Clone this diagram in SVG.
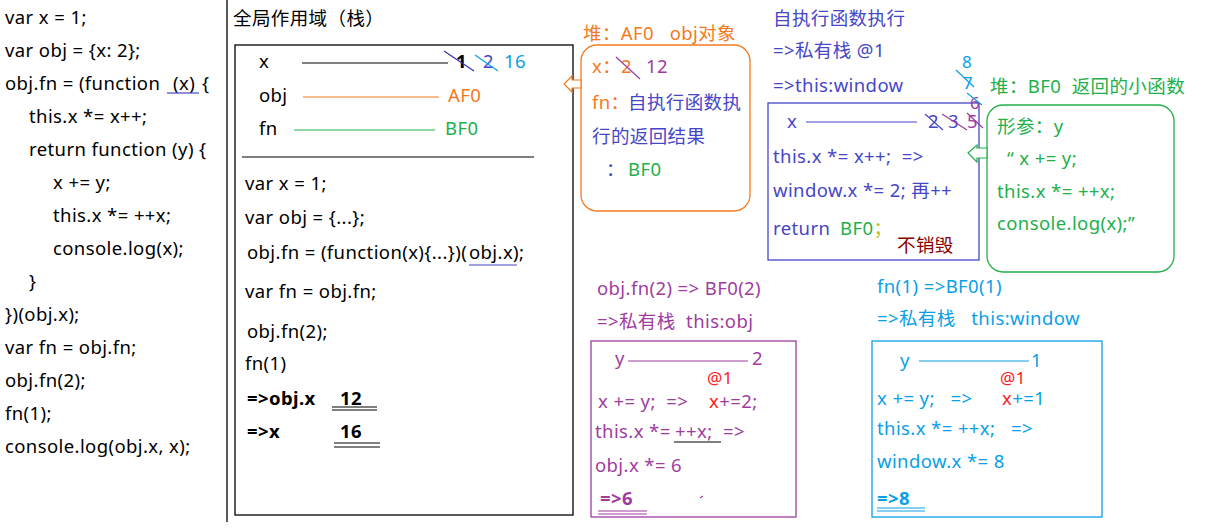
<svg xmlns="http://www.w3.org/2000/svg" width="1218" height="528" viewBox="0 0 1218 528">
<style>
text{font-family:"Noto Sans","Noto Sans CJK SC",sans-serif;font-size:18.5px;letter-spacing:0.4px;fill:#000;white-space:pre}
.b{font-weight:bold}
.sm{font-size:17px}
.or{fill:#f47a20}.bl{fill:#4646c8}.pu{fill:#a03ca0}.gr{fill:#22b04a}.cy{fill:#0aa0e6}.rd{fill:#ff2020}.dr{fill:#8b0000}.yg{fill:#b0c020}
.box{fill:none;stroke-width:1.3}
.ln{stroke-width:1.2;fill:none}
</style>
<rect width="1218" height="528" fill="#fff"/>
<g id="code">
<text x="5" y="24">var x = 1;</text>
<text x="5" y="57">var obj = {x: 2};</text>
<text x="5" y="90">obj.fn = (function<tspan x="173">(x)</tspan><tspan x="202">{</tspan></text>
<line x1="167" y1="93" x2="199" y2="93" stroke="#4646c8" stroke-width="1.2"/>
<text x="29" y="123">this.x *= x++;</text>
<text x="29" y="156">return function (y) {</text>
<text x="53" y="189">x += y;</text>
<text x="53" y="222">this.x *= ++x;</text>
<text x="53" y="255">console.log(x);</text>
<text x="29" y="288">}</text>
<text x="5" y="321">})(obj.x);</text>
<text x="5" y="354">var fn = obj.fn;</text>
<text x="5" y="387">obj.fn(2);</text>
<text x="5" y="420">fn(1);</text>
<text x="5" y="453">console.log(obj.x, x);</text>
<line x1="227" y1="0" x2="227" y2="522" stroke="#000" stroke-width="1.3"/>
</g>
<g id="global-scope">
<text x="233" y="25">全局作用域（栈）</text>
<rect class="box" x="235" y="45" width="338" height="470" stroke="#000"/>
<text x="259" y="68">x</text>
<line class="ln" x1="302" y1="63" x2="448" y2="63" stroke="#000"/>
<text x="456" y="68" class="b">1</text>
<line class="ln" x1="444" y1="51" x2="474" y2="71" stroke="#3030b0"/>
<text x="483" y="68" class="bl">2</text>
<line class="ln" x1="475" y1="55" x2="498" y2="71" stroke="#0aa0e6"/>
<text x="504" y="68" class="cy">16</text>
<text x="259" y="102">obj</text>
<line class="ln" x1="303" y1="97" x2="439" y2="97" stroke="#f47a20"/>
<text x="448" y="102" class="or">AF0</text>
<text x="259" y="135">fn</text>
<line class="ln" x1="294" y1="130" x2="435" y2="130" stroke="#22b04a"/>
<text x="445" y="135" class="gr">BF0</text>
<line class="ln" x1="242" y1="157" x2="534" y2="157" stroke="#000"/>
<text x="245" y="190">var x = 1;</text>
<text x="245" y="224">var obj = {...};</text>
<text x="247" y="259">obj.fn = (function(x){...})(<tspan x="469">obj.x);</tspan></text>
<line class="ln" x1="469" y1="265" x2="517" y2="265" stroke="#4646c8"/>
<text x="245" y="298">var fn = obj.fn;</text>
<text x="247" y="338">obj.fn(2);</text>
<text x="245" y="370">fn(1)</text>
<text x="247" y="405" class="b">=&gt;obj.x</text>
<text x="340" y="405" class="b">12</text>
<line class="ln" x1="332" y1="407" x2="377" y2="407" stroke="#000"/>
<line class="ln" x1="332" y1="410" x2="377" y2="410" stroke="#000"/>
<text x="247" y="438" class="b">=&gt;x</text>
<text x="340" y="438" class="b">16</text>
<line class="ln" x1="334" y1="443" x2="380" y2="443" stroke="#000"/>
<line class="ln" x1="334" y1="447" x2="380" y2="447" stroke="#000"/>
</g>
<g id="heap-AF0">
<text x="583" y="40" class="or">堆：AF0   obj对象</text>
<rect class="box" x="581" y="45" width="169" height="166" rx="16" stroke="#f47a20"/>
<text x="592" y="73" class="or">x：2</text>
<line class="ln" x1="616" y1="57" x2="640" y2="79" stroke="#a03ca0"/>
<text x="646" y="73" class="pu">12</text>
<text x="592" y="109"><tspan class="or">fn：</tspan><tspan class="bl" x="628">自执行函数执</tspan></text>
<text x="592" y="143" class="bl">行的返回结果</text>
<text x="606" y="176"><tspan class="bl">：</tspan><tspan class="gr" x="628">BF0</tspan></text>
</g>
<g id="private-stack-1">
<text x="773" y="25" class="bl">自执行函数执行</text>
<text x="773" y="57" class="bl">=&gt;私有栈 @1</text>
<text x="773" y="92" class="bl">=&gt;this:window</text>
<rect class="box" x="768" y="103" width="211" height="157" stroke="#4646c8"/>
<text x="787" y="128" class="bl">x</text>
<line class="ln" x1="806" y1="122" x2="917" y2="122" stroke="#4646c8"/>
<text x="928" y="128" class="bl">2</text>
<line class="ln" x1="925" y1="114" x2="943" y2="130" stroke="#4646c8"/>
<text x="948" y="128" class="bl">3</text>
<line class="ln" x1="942" y1="114" x2="967" y2="130" stroke="#a03ca0"/>
<text x="967" y="128" class="pu">5</text>
<line class="ln" x1="967" y1="113" x2="983" y2="128" stroke="#a03ca0"/>
<text x="970" y="109" class="pu sm">6</text>
<line class="ln" x1="967" y1="93" x2="982" y2="105" stroke="#0aa0e6"/>
<text x="963" y="89" class="cy sm">7</text>
<line class="ln" x1="956" y1="70" x2="974" y2="87" stroke="#0aa0e6"/>
<text x="962" y="68" class="cy sm">8</text>
<text x="773" y="163" class="bl">this.x *= x++;  =&gt;</text>
<text x="773" y="197" class="bl">window.x *= 2; 再++</text>
<text x="773" y="235"><tspan class="bl">return</tspan><tspan class="gr" x="840">BF0</tspan><tspan class="yg">；</tspan></text>
<text x="897" y="252" class="dr">不销毁</text>
</g>
<g id="heap-BF0">
<text x="990" y="93" class="gr">堆：BF0  返回的小函数</text>
<rect class="box" x="987" y="105" width="187" height="167" rx="16" stroke="#22b04a"/>
<text x="997" y="133" class="gr">形参：y</text>
<text x="1007" y="165" class="gr">“ x += y;</text>
<text x="997" y="198" class="gr">this.x *= ++x;</text>
<text x="997" y="230" class="gr">console.log(x);”</text>
</g>
<g id="call-obj-fn2">
<text x="597" y="295" class="pu">obj.fn(2) =&gt; BF0(2)</text>
<text x="597" y="328" class="pu">=&gt;私有栈  this:obj</text>
<rect class="box" x="591" y="341" width="205" height="176" stroke="#a03ca0"/>
<text x="615" y="365" class="pu">y</text>
<line class="ln" x1="628" y1="361" x2="748" y2="361" stroke="#a03ca0"/>
<text x="752" y="365" class="pu">2</text>
<text x="707" y="384" class="rd sm">@1</text>
<text x="598" y="408"><tspan class="pu">x += y;  =&gt;</tspan><tspan class="rd" x="709">x</tspan><tspan class="pu">+=2;</tspan></text>
<text x="595" y="438" class="pu">this.x *=<tspan x="675">++x;  =&gt;</tspan></text>
<line class="ln" x1="674" y1="442" x2="721" y2="442" stroke="#000"/>
<text x="595" y="472" class="pu">obj.x *= 6</text>
<text x="600" y="505" class="pu b">=&gt;6</text>
<line class="ln" x1="598" y1="511" x2="647" y2="511" stroke="#a03ca0"/>
<line class="ln" x1="598" y1="514" x2="647" y2="514" stroke="#a03ca0"/>
<line class="ln" x1="700" y1="498" x2="703" y2="496" stroke="#a03ca0"/>
</g>
<g id="call-fn1">
<text x="877" y="293" class="cy">fn(1) =&gt;BF0(1)</text>
<text x="877" y="325" class="cy">=&gt;私有栈   this:window</text>
<rect class="box" x="872" y="341" width="230" height="176" stroke="#0aa0e6"/>
<text x="900" y="367" class="cy">y</text>
<line class="ln" x1="919" y1="361" x2="1029" y2="361" stroke="#0aa0e6"/>
<text x="1031" y="367" class="cy">1</text>
<text x="1000" y="384" class="rd sm">@1</text>
<text x="877" y="405"><tspan class="cy">x += y;   =&gt;</tspan><tspan class="rd" x="1002">x</tspan><tspan class="cy">+=1</tspan></text>
<text x="877" y="435" class="cy">this.x *= ++x;   =&gt;</text>
<text x="877" y="468" class="cy">window.x *= 8</text>
<text x="877" y="505" class="cy b">=&gt;8</text>
<line class="ln" x1="877" y1="508" x2="925" y2="508" stroke="#0aa0e6"/>
<line class="ln" x1="877" y1="511" x2="925" y2="511" stroke="#0aa0e6"/>
</g>
<g id="connectors">
<path d="M564,84 L572,76 L572,80 L581,80 L581,88 L572,88 L572,92 Z" fill="#fff" stroke="#f47a20" stroke-width="1.2"/>
<path d="M968,153 L977,145 L977,148 L987,148 L987,158 L977,158 L977,162 Z" fill="#fff" stroke="#22b04a" stroke-width="1.2"/>
</g>
</svg>
